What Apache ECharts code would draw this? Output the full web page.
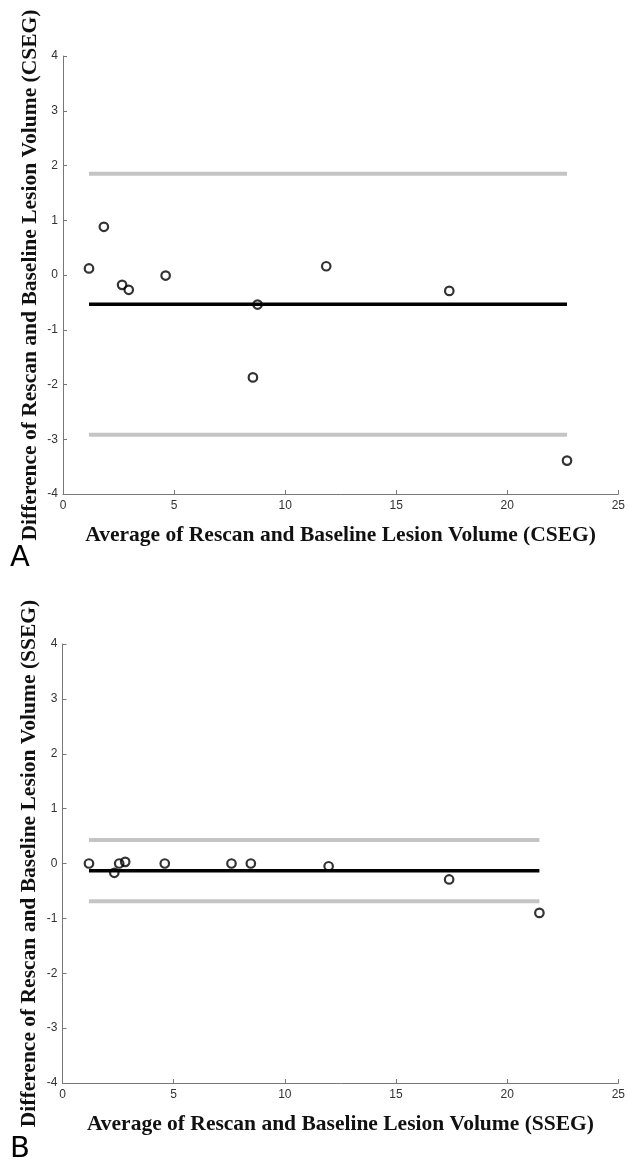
<!DOCTYPE html>
<html>
<head>
<meta charset="utf-8">
<script src="https://cdn.jsdelivr.net/npm/echarts@6/dist/echarts.min.js"></script>
<style>
html,body{margin:0;padding:0;background:#fff;}
#chart{width:628px;height:1159px;}
</style>
</head>
<body>
<div id="chart"></div>
<script>
// Panel A (CSEG)
const cseg_avg  = [1.17, 1.84, 2.66, 2.96, 4.62, 8.76, 8.55, 11.85, 17.39, 22.69];
const cseg_diff = [0.12, 0.88, -0.18, -0.27, -0.01, -0.54, -1.87, 0.16, -0.29, -3.39];
const cseg_mean = -0.535;
const cseg_upper = 1.85;
const cseg_lower = -2.92;
const cseg_range = [1.17, 22.69];

// Panel B (SSEG)
const sseg_avg  = [1.19, 2.33, 2.55, 2.82, 4.6, 7.6, 8.47, 11.97, 17.39, 21.45];
const sseg_diff = [0.0, -0.17, 0.0, 0.03, 0.0, 0.0, 0.0, -0.05, -0.29, -0.9];
const sseg_mean = -0.13;
const sseg_upper = 0.43;
const sseg_lower = -0.69;
const sseg_range = [1.19, 21.45];

const xTitles = ['Average of Rescan and Baseline Lesion Volume (CSEG)', 'Average of Rescan and Baseline Lesion Volume (SSEG)'];
const yTitles = ['Difference of Rescan and Baseline Lesion Volume (CSEG)', 'Difference of Rescan and Baseline Lesion Volume (SSEG)'];
const panelLetters = ['A', 'B'];

const chart = echarts.init(document.getElementById('chart'));

function xAxisFor(i) {
  return {
    type: 'value', gridIndex: i, min: 0, max: 25, interval: 5,
    splitLine: {show: false},
    axisLine: {show: true, onZero: false, lineStyle: {color: '#777', width: 1}},
    axisTick: {show: true, inside: true, length: 4, lineStyle: {color: '#777'}},
    axisLabel: {color: '#333', fontSize: 12, fontFamily: 'Liberation Sans', margin: 6},
    name: xTitles[i], nameLocation: 'middle', nameGap: 30,
    nameTextStyle: {fontFamily: 'Liberation Serif', fontWeight: 'bold', fontSize: 21.5, color: '#111'}
  };
}
function yAxisFor(i) {
  return {
    type: 'value', gridIndex: i, min: -4, max: 4, interval: 1,
    splitLine: {show: false},
    axisLine: {show: true, onZero: false, lineStyle: {color: '#777', width: 1}},
    axisTick: {show: true, inside: true, length: 4, lineStyle: {color: '#777'}},
    axisLabel: {color: '#333', fontSize: 12, fontFamily: 'Liberation Sans', margin: 5},
    name: yTitles[i], nameLocation: 'middle', nameGap: 22, nameMoveOverlap: false,
    nameTextStyle: {fontFamily: 'Liberation Serif', fontWeight: 'bold', fontSize: 21.5, color: '#111'}
  };
}
function hline(i, val, range, color, width) {
  return {
    type: 'line', xAxisIndex: i, yAxisIndex: i, symbol: 'none', silent: true, z: 2,
    data: [[range[0], val], [range[1], val]],
    lineStyle: {color: color, width: width}
  };
}
function scatter(i, xs, ys) {
  return {
    type: 'scatter', xAxisIndex: i, yAxisIndex: i, symbol: 'circle', symbolSize: 8.5, z: 5,
    data: xs.map((x, k) => [x, ys[k]]),
    itemStyle: {color: 'rgba(0,0,0,0)', borderColor: '#000', borderWidth: 2.2}
  };
}

chart.setOption({
  animation: false,
  backgroundColor: '#fff',
  grid: [
    {left: 63, top: 56, width: 557, height: 438},
    {left: 62.5, top: 644, width: 556.5, height: 439}
  ],
  xAxis: [xAxisFor(0), xAxisFor(1)],
  yAxis: [yAxisFor(0), yAxisFor(1)],
  graphic: [
    {type: 'text', left: 10, top: 544, style: {text: panelLetters[0], font: '29px "DejaVu Sans"', fill: '#000'}},
    {type: 'text', left: 10, top: 1135, style: {text: panelLetters[1], font: '29px "DejaVu Sans"', fill: '#000'}}
  ],
  series: [
    hline(0, cseg_upper, cseg_range, '#c4c4c4', 4),
    hline(0, cseg_lower, cseg_range, '#c4c4c4', 4),
    hline(0, cseg_mean, cseg_range, '#000', 3.5),
    scatter(0, cseg_avg, cseg_diff),
    hline(1, sseg_upper, sseg_range, '#c4c4c4', 4),
    hline(1, sseg_lower, sseg_range, '#c4c4c4', 4),
    hline(1, sseg_mean, sseg_range, '#000', 3.5),
    scatter(1, sseg_avg, sseg_diff)
  ]
});
</script>
</body>
</html>
